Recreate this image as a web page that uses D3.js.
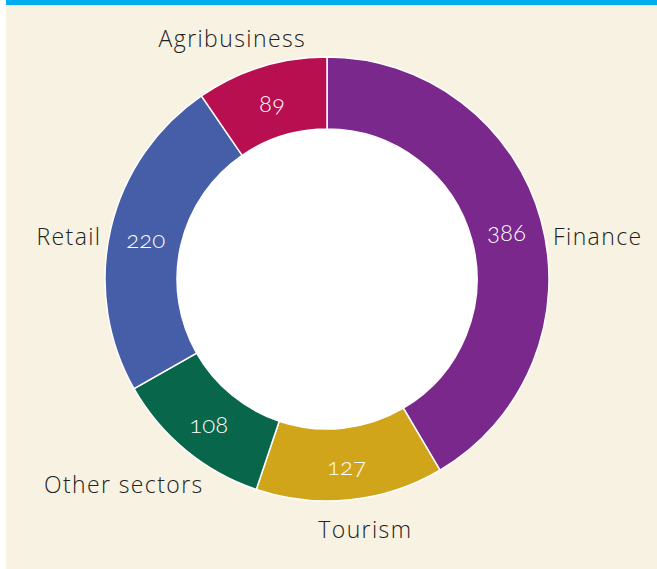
<!DOCTYPE html>
<head>
  <script src="https://cdn.jsdelivr.net/npm/d3@7"></script>
  <title>Projects by sector</title>
  <style>
    html, body {
      margin: 0;
      background-color: #fff;
    }
    #chart text.name {
      font-family: "Open Sans", sans-serif;
      font-size: 23px;
      font-weight: 350;
      letter-spacing: 1.4px;
      fill: #222;
    }
    #chart text.value {
      font-family: "Lato", "Open Sans", sans-serif;
      font-size: 24px;
      font-weight: 300;
      font-variant-numeric: oldstyle-nums;
      font-feature-settings: "onum";
      fill: #fff;
    }
  </style>
</head>
<div id="chart"></div>
<script>
  // sector data, clockwise from 12 o'clock
  const sectors = ["Finance", "Tourism", "Other sectors", "Retail", "Agribusiness"];
  const counts = [386, 127, 108, 220, 89];
  const colours = ["#7a288b", "#d1a51a", "#08664a", "#465da8", "#b70f4f"];

  const width = 657;
  const height = 569;
  const cx = 327, cy = 279;
  const outerR = 222, innerR = 150;

  // small hand nudges so names sit where the original put them
  const nudge = {
    "Finance": [-17, 24, "start"],
    "Tourism": [12, 0, "middle"],
    "Other sectors": [-43, 11, "middle"],
    "Retail": [20, 14, "end"],
    "Agribusiness": [-20, 1, "middle"]
  };

  const svg = d3.select("#chart").append("svg")
      .attr("width", width)
      .attr("height", height);

  svg.append("rect")
      .attr("x", 6).attr("y", 0)
      .attr("width", width - 6).attr("height", height)
      .attr("fill", "#f8f2e3");
  svg.append("rect")
      .attr("x", 6).attr("y", 0)
      .attr("width", width - 6).attr("height", 5)
      .attr("fill", "#00adee");

  const data = sectors.map((s, i) => ({name: s, value: counts[i], colour: colours[i]}));
  const pie = d3.pie().sort(null).value(d => d.value);
  const arc = d3.arc().innerRadius(innerR).outerRadius(outerR);
  const midArc = d3.arc().innerRadius(186).outerRadius(186);
  const labelArc = d3.arc().innerRadius(252).outerRadius(252);

  const arcs = pie(data);
  const g = svg.append("g").attr("transform", `translate(${cx},${cy})`);

  g.append("circle").attr("r", innerR).attr("fill", "#fff");

  g.selectAll("path")
    .data(arcs)
    .join("path")
      .attr("d", arc)
      .attr("fill", d => d.data.colour)
      .attr("stroke", "#fff")
      .attr("stroke-width", 1.5);

  g.selectAll("text.value")
    .data(arcs)
    .join("text")
      .attr("class", "value")
      .attr("text-anchor", "middle")
      .attr("dy", "0.45em")
      .attr("transform", d => `translate(${midArc.centroid(d)})`)
      .text(d => d.data.value);

  g.selectAll("text.name")
    .data(arcs)
    .join("text")
      .attr("class", "name")
      .attr("dy", "0.35em")
      .attr("text-anchor", d => nudge[d.data.name][2])
      .attr("transform", d => {
        const [x, y] = labelArc.centroid(d);
        const n = nudge[d.data.name];
        return `translate(${x + n[0]},${y + n[1]})`;
      })
      .text(d => d.data.name);
</script>
